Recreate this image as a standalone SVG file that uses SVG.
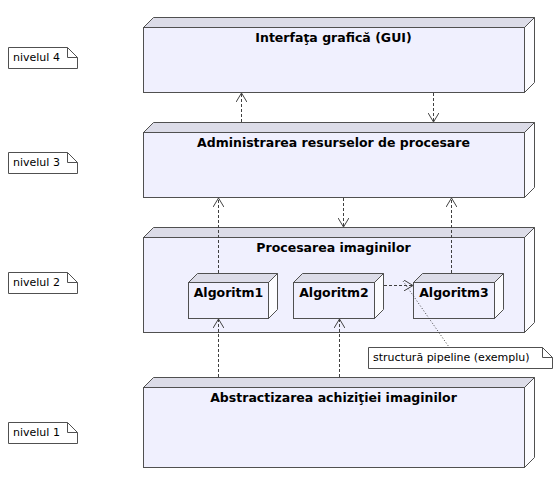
<svg xmlns="http://www.w3.org/2000/svg" width="555" height="478" viewBox="0 0 555 478">
<defs>
<style>
.front{fill:#F0F0FE;stroke:#505050;stroke-width:1}
.top{fill:#DCDCE8;stroke:#505050;stroke-width:1;stroke-linejoin:miter}
.side{fill:#FCFCFF;stroke:#505050;stroke-width:1}
.title{font-family:"DejaVu Sans",Verdana,sans-serif;font-weight:bold;font-size:12.5px;fill:#000;text-anchor:middle}
.note{fill:#FFFFFF;stroke:#505050;stroke-width:1}
.fold{fill:none;stroke:#505050;stroke-width:1}
.ntext{font-family:"DejaVu Sans",Verdana,sans-serif;font-size:11px;fill:#000}
.dep{fill:none;stroke:#404040;stroke-width:1;stroke-dasharray:3,2}
.anchor{fill:none;stroke:#404040;stroke-width:1;stroke-dasharray:1,2}
</style>
<marker id="open" viewBox="0 0 10 12" refX="10" refY="6" markerWidth="9" markerHeight="11" markerUnits="userSpaceOnUse" orient="auto">
<path d="M0,0 L10,6 L0,12" fill="none" stroke="#404040" stroke-width="1.1"/>
</marker>
</defs>
<rect width="555" height="478" fill="#FFFFFF"/>

<g id="note-nivel4">
<path class="note" d="M8.5,47.5 H67.5 L77.5,57.5 V68.5 H8.5 Z"/>
<path class="fold" d="M67.5,47.5 V57.5 H77.5"/>
<text class="ntext" x="13" y="61">nivelul 4</text>
</g>
<g id="note-nivel3">
<path class="note" d="M8.5,152.5 H67.5 L77.5,162.5 V173.5 H8.5 Z"/>
<path class="fold" d="M67.5,152.5 V162.5 H77.5"/>
<text class="ntext" x="13" y="166">nivelul 3</text>
</g>
<g id="note-nivel2">
<path class="note" d="M8.5,272.5 H67.5 L77.5,282.5 V293.5 H8.5 Z"/>
<path class="fold" d="M67.5,272.5 V282.5 H77.5"/>
<text class="ntext" x="13" y="286">nivelul 2</text>
</g>
<g id="note-nivel1">
<path class="note" d="M8.5,422.5 H67.5 L77.5,432.5 V443.5 H8.5 Z"/>
<path class="fold" d="M67.5,422.5 V432.5 H77.5"/>
<text class="ntext" x="13" y="436">nivelul 1</text>
</g>

<g id="node-gui">
<polygon class="top" points="143.5,27.5 153.5,17.5 534.5,17.5 524.5,27.5"/>
<polygon class="side" points="524.5,27.5 534.5,17.5 534.5,82.5 524.5,92.5"/>
<rect class="front" x="143.5" y="27.5" width="381" height="65"/>
<text class="title" x="333.5" y="42">Interfaţa grafică (GUI)</text>
</g>

<g id="node-admin">
<polygon class="top" points="143.5,132.5 153.5,122.5 534.5,122.5 524.5,132.5"/>
<polygon class="side" points="524.5,132.5 534.5,122.5 534.5,187.5 524.5,197.5"/>
<rect class="front" x="143.5" y="132.5" width="381" height="65"/>
<text class="title" x="333.5" y="147">Administrarea resurselor de procesare</text>
</g>

<g id="node-procesare">
<polygon class="top" points="143.5,237.5 153.5,227.5 534.5,227.5 524.5,237.5"/>
<polygon class="side" points="524.5,237.5 534.5,227.5 534.5,322.5 524.5,332.5"/>
<rect class="front" x="143.5" y="237.5" width="381" height="95"/>
<text class="title" x="333.5" y="252">Procesarea imaginilor</text>
</g>

<g id="node-algoritm1">
<polygon class="top" points="188.5,282.5 197.5,273.5 277.5,273.5 268.5,282.5"/>
<polygon class="side" points="268.5,282.5 277.5,273.5 277.5,309.5 268.5,318.5"/>
<rect class="front" x="188.5" y="282.5" width="80" height="36"/>
<text class="title" x="228.5" y="297">Algoritm1</text>
</g>

<g id="node-algoritm2">
<polygon class="top" points="293.5,282.5 302.5,273.5 383.5,273.5 374.5,282.5"/>
<polygon class="side" points="374.5,282.5 383.5,273.5 383.5,309.5 374.5,318.5"/>
<rect class="front" x="293.5" y="282.5" width="81" height="36"/>
<text class="title" x="334" y="297">Algoritm2</text>
</g>

<g id="node-algoritm3">
<polygon class="top" points="413.5,282.5 422.5,273.5 503.5,273.5 494.5,282.5"/>
<polygon class="side" points="494.5,282.5 503.5,273.5 503.5,309.5 494.5,318.5"/>
<rect class="front" x="413.5" y="282.5" width="81" height="36"/>
<text class="title" x="454" y="297">Algoritm3</text>
</g>

<g id="node-abstractizare">
<polygon class="top" points="143.5,387.5 153.5,377.5 534.5,377.5 524.5,387.5"/>
<polygon class="side" points="524.5,387.5 534.5,377.5 534.5,457.5 524.5,467.5"/>
<rect class="front" x="143.5" y="387.5" width="381" height="80"/>
<text class="title" x="333.5" y="402">Abstractizarea achiziţiei imaginilor</text>
</g>

<g id="note-pipeline">
<path class="note" d="M368.5,347.5 H542.5 L552.5,357.5 V368.5 H368.5 Z"/>
<path class="fold" d="M542.5,347.5 V357.5 H552.5"/>
<text class="ntext" x="373" y="361">structură pipeline (exemplu)</text>
</g>

<g id="connectors">
<line class="dep" x1="241.5" y1="122" x2="241.5" y2="93" marker-end="url(#open)"/>
<line class="dep" x1="433.5" y1="93" x2="433.5" y2="122" marker-end="url(#open)"/>
<line class="dep" x1="218.5" y1="273" x2="218.5" y2="198" marker-end="url(#open)"/>
<line class="dep" x1="343.5" y1="198" x2="343.5" y2="227" marker-end="url(#open)"/>
<line class="dep" x1="451.5" y1="273" x2="451.5" y2="198" marker-end="url(#open)"/>
<line class="dep" x1="218.5" y1="377" x2="218.5" y2="319" marker-end="url(#open)"/>
<line class="dep" x1="339.5" y1="377" x2="339.5" y2="319" marker-end="url(#open)"/>
<line class="dep" x1="384" y1="285.5" x2="413" y2="285.5" marker-end="url(#open)"/>
<line class="anchor" x1="403" y1="281" x2="449" y2="347"/>
</g>
</svg>
